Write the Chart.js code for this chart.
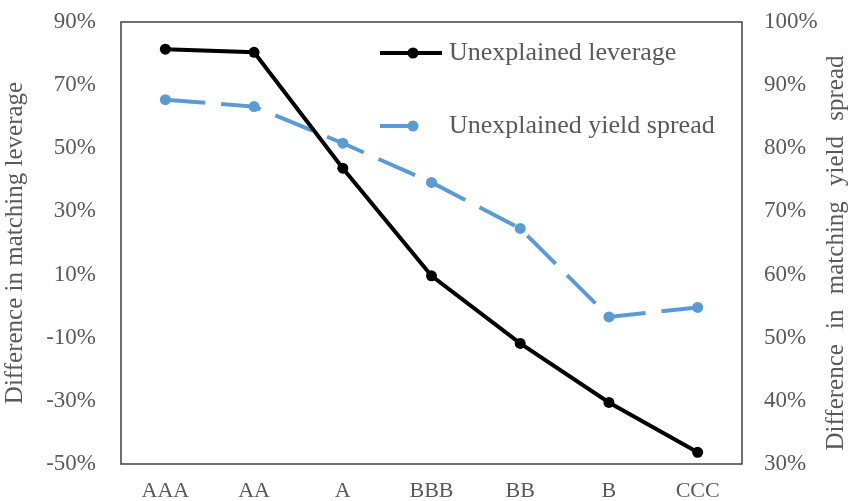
<!DOCTYPE html>
<html lang="en">
<head>
    <meta charset="UTF-8">
    <title>Unexplained leverage and yield spread</title>
    <script src="https://cdn.jsdelivr.net/npm/chart.js"></script>
    <style>
        html, body { margin: 0; padding: 0; background: #fff; }
        #wrap { width: 851px; height: 501px; }
    </style>
</head>
<body>
    <div id="wrap"><canvas id="spreadChart"></canvas></div>

    <script>
        // ratings on the x axis
        const ratings = ['AAA', 'AA', 'A', 'BBB', 'BB', 'B', 'CCC'];
        // left axis, in %
        const unexplainedLeverage = [81.4, 80.4, 43.7, 9.6, -11.8, -30.5, -46.3];
        // right axis, in %
        const unexplainedYieldSpread = [87.7, 86.6, 80.8, 74.6, 67.3, 53.3, 54.8];
        const leftTicks = [-50, -30, -10, 10, 30, 50, 70, 90];
        const rightTicks = [30, 40, 50, 60, 70, 80, 90, 100];
        const rightTitle = 'Difference in matching yield spread';

        const textColor = '#595959';
        const serif = "'Liberation Serif', 'Times New Roman', serif";

        // box round the plot area, legend inside it, right title (reads bottom to top)
        const frameAndLegend = {
            id: 'frameAndLegend',
            afterDatasetsDraw(chart) {
                const c = chart.ctx;
                const a = chart.chartArea;
                c.save();
                c.strokeStyle = '#404040';
                c.lineWidth = 1.5;
                c.setLineDash([]);
                c.strokeRect(a.left, a.top, a.right - a.left, a.bottom - a.top);

                chart.data.datasets.forEach((ds, i) => {
                    const y = 53 + i * 73;
                    // dashed series: only the first dash shows in the sample
                    const x2 = ds.borderDash ? 418 : 442;
                    c.strokeStyle = ds.borderColor;
                    c.lineWidth = ds.borderWidth;
                    c.beginPath();
                    c.moveTo(380, y);
                    c.lineTo(x2, y);
                    c.stroke();
                    c.fillStyle = ds.borderColor;
                    c.beginPath();
                    c.arc(413, y, 5.5, 0, Math.PI * 2);
                    c.fill();
                    c.fillStyle = textColor;
                    c.font = '26px ' + serif;
                    c.textBaseline = 'middle';
                    c.fillText(ds.label, 449, y);
                });

                c.translate(836, (a.top + a.bottom) / 2 + 10);
                c.rotate(-Math.PI / 2);
                c.fillStyle = textColor;
                c.font = '25px ' + serif;
                c.textAlign = 'center';
                c.textBaseline = 'middle';
                c.wordSpacing = '9px';
                c.fillText(rightTitle, 0, 0);
                c.restore();
            }
        };

        // keep the top/bottom tick labels from pushing the plot area
        const noLabelPadding = scale => {
            scale.paddingTop = 0;
            scale.paddingBottom = 0;
        };

        const ctx = document.getElementById('spreadChart').getContext('2d');
        const spreadChart = new Chart(ctx, {
            type: 'line',
            data: {
                labels: ratings,
                datasets: [
                    {
                        label: 'Unexplained leverage',
                        data: unexplainedLeverage,
                        yAxisID: 'y',
                        borderColor: '#000000',
                        backgroundColor: '#000000',
                        borderWidth: 4,
                        pointRadius: 5.5,
                        pointBorderWidth: 0,
                        tension: 0,
                    },
                    {
                        label: 'Unexplained yield spread',
                        data: unexplainedYieldSpread,
                        yAxisID: 'y1',
                        borderColor: '#5B9BD5',
                        backgroundColor: '#5B9BD5',
                        borderWidth: 4,
                        borderDash: [40, 16],
                        pointRadius: 5.5,
                        pointBorderWidth: 0,
                        tension: 0,
                    },
                ],
            },
            options: {
                responsive: true,
                maintainAspectRatio: false,
                animation: false,
                layout: { padding: { top: 22, left: 0, right: 0, bottom: 0 } },
                plugins: {
                    legend: { display: false },
                    tooltip: { enabled: false },
                },
                scales: {
                    x: {
                        offset: true,
                        grid: { display: false },
                        border: { display: false },
                        ticks: { color: textColor, font: { family: serif, size: 22 }, padding: 6 },
                        afterFit(scale) { scale.height = 37; },
                    },
                    y: {
                        position: 'left',
                        min: -50,
                        max: 90,
                        afterBuildTicks(scale) { scale.ticks = leftTicks.map(v => ({ value: v })); },
                        grid: { display: false },
                        border: { display: false },
                        ticks: {
                            color: textColor,
                            font: { family: serif, size: 23 },
                            padding: 17,
                            callback: v => v + '%',
                        },
                        title: {
                            display: true,
                            text: 'Difference in matching leverage',
                            color: textColor,
                            font: { family: serif, size: 25 },
                            padding: { top: 0, bottom: 0 },
                        },
                        afterFit(scale) { scale.width = 121; noLabelPadding(scale); },
                    },
                    y1: {
                        position: 'right',
                        min: 30,
                        max: 100,
                        afterBuildTicks(scale) { scale.ticks = rightTicks.map(v => ({ value: v })); },
                        grid: { display: false },
                        border: { display: false },
                        ticks: {
                            color: textColor,
                            font: { family: serif, size: 23 },
                            padding: 14,
                            callback: v => v + '%',
                        },
                        afterFit(scale) { scale.width = 109; noLabelPadding(scale); },
                    },
                },
            },
            plugins: [frameAndLegend],
        });
    </script>
</body>
</html>
